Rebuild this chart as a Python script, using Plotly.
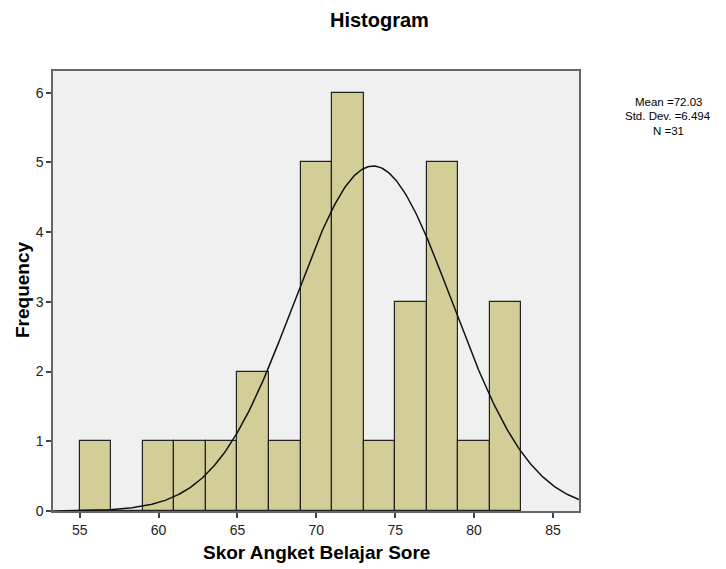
import numpy as np
import plotly.graph_objects as go

# ---- data ----
bin_starts = [55, 57, 59, 61, 63, 65, 67, 69, 71, 73, 75, 77, 79, 81]
frequencies = [1, 0, 1, 1, 1, 2, 1, 5, 6, 1, 3, 5, 1, 3]
bin_width = 2
n_total = 31
stat_lines = ["Mean =72.03", "Std. Dev. =6.494", "N =31"]
# normal curve as drawn in the picture (peak position and spread)
curve_mean = 73.6
curve_sd = 5.0
x_ticks = [55, 60, 65, 70, 75, 80, 85]
y_ticks = [0, 1, 2, 3, 4, 5, 6]

# ---- layout geometry (page pixels); the page body has an 8px margin ----
OFF = 8
W, H = 726 - OFF, 569 - OFF
L, R, T, B = 53, 579, 71, 511
pw, ph = R - L, B - T


def px(x):
    return (x - L) / pw


def py(y):
    return (B - y) / ph


x_range = [53.31, 86.65]
y_range = [0, 6.31]

centers = [s + bin_width / 2 for s in bin_starts]
xc = np.linspace(x_range[0], x_range[1], 400)
yc = n_total * bin_width * np.exp(-0.5 * ((xc - curve_mean) / curve_sd) ** 2) / (curve_sd * np.sqrt(2 * np.pi))

FONT = "Liberation Sans, Arial, sans-serif"

fig = go.Figure()
fig.add_trace(go.Bar(
    x=centers, y=frequencies, width=bin_width,
    marker=dict(color="#D3CE98", line=dict(color="#222222", width=1.2)),
    hoverinfo="x+y", showlegend=False,
))
fig.add_trace(go.Scatter(
    x=xc, y=yc, mode="lines",
    line=dict(color="#111111", width=1.5),
    showlegend=False, hoverinfo="skip",
))

annotations = [
    dict(text="<b>Histogram</b>", x=px(379), y=py(20), xref="paper", yref="paper",
         showarrow=False, font=dict(size=20, color="#000", family=FONT), xanchor="center", yanchor="middle"),
    dict(text="<b>Skor Angket Belajar Sore</b>", x=px(316), y=py(552), xref="paper", yref="paper",
         showarrow=False, font=dict(size=19, color="#000", family=FONT), xanchor="center", yanchor="middle"),
    dict(text="<b>Frequency</b>", x=px(22), y=py(290), xref="paper", yref="paper", textangle=-90,
         showarrow=False, font=dict(size=19, color="#000", family=FONT), xanchor="center", yanchor="middle"),
]
for i, s in enumerate(stat_lines):
    annotations.append(dict(text=s, x=px(668), y=py(101.5 + 14.5 * i), xref="paper", yref="paper",
                            showarrow=False, font=dict(size=11.5, color="#000", family=FONT),
                            xanchor="center", yanchor="middle", borderpad=0))

fig.update_layout(
    width=W, height=H,
    margin=dict(l=L - OFF, r=(W + OFF) - R, t=T - OFF, b=(H + OFF) - B, pad=0),
    paper_bgcolor="white", plot_bgcolor="#F0F0F0",
    bargap=0, annotations=annotations,
    font=dict(family=FONT),
)
fig.update_xaxes(range=x_range, tickvals=x_ticks, ticks="outside", ticklen=5, tickwidth=1.5,
                 tickcolor="#444", showgrid=False, zeroline=False, showline=True, mirror=True,
                 linecolor="#666", linewidth=1.5, tickfont=dict(size=14, color="#222", family=FONT))
fig.update_yaxes(range=y_range, tickvals=y_ticks, ticks="outside", ticklen=5, tickwidth=1.5,
                 tickcolor="#444", showgrid=False, zeroline=False, showline=True, mirror=True,
                 linecolor="#666", linewidth=1.5, tickfont=dict(size=14, color="#222", family=FONT))

fig.write_html("out.html")
